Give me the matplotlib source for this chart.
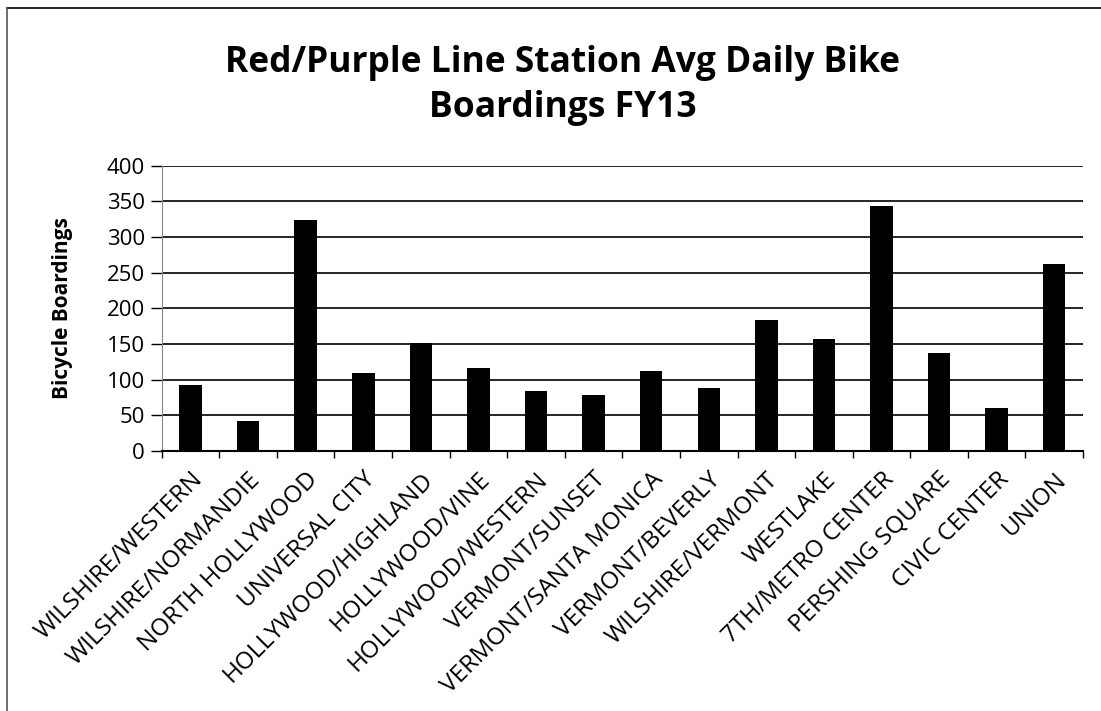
import numpy as np
from matplotlib import pyplot as plt
from matplotlib.lines import Line2D

stations = ["WILSHIRE/WESTERN", "WILSHIRE/NORMANDIE", "NORTH HOLLYWOOD", "UNIVERSAL CITY",
            "HOLLYWOOD/HIGHLAND", "HOLLYWOOD/VINE", "HOLLYWOOD/WESTERN", "VERMONT/SUNSET",
            "VERMONT/SANTA MONICA", "VERMONT/BEVERLY", "WILSHIRE/VERMONT", "WESTLAKE",
            "7TH/METRO CENTER", "PERSHING SQUARE", "CIVIC CENTER", "UNION"]
boardings = [93, 42, 324, 109, 151, 116, 84, 78, 112, 88, 184, 157, 343, 138, 60, 262]
yticks = [0, 50, 100, 150, 200, 250, 300, 350, 400]

plt.rcParams['font.family'] = ['Open Sans', 'DejaVu Sans']

fig = plt.figure(figsize=(11.01, 7.11), dpi=100)
ax = fig.add_axes([0.1469, 0.3657, 0.8368, 0.4013])

x = np.arange(len(stations))
ax.bar(x, boardings, width=0.39, color="black", zorder=3)

ax.set_xlim(-0.5, len(stations) - 0.5)
ax.set_ylim(0, 400)
ax.set_yticks(yticks)
ax.tick_params(axis="y", labelsize=16, length=8, width=1, pad=4)
ax.yaxis.grid(True, color="black", linewidth=1.2, zorder=0)

# ticks sit between the categories, labels centered under bars
ax.set_xticks(x)
ax.set_xticklabels(stations, rotation=45, ha="right", rotation_mode="anchor", fontsize=17.5)
ax.tick_params(axis="x", which="major", length=0, pad=12)
ax.set_xticks(np.arange(-0.5, len(stations), 1), minor=True)
ax.tick_params(axis="x", which="minor", length=5, width=1)

for s in ["top", "right"]:
    ax.spines[s].set_visible(False)
ax.spines["left"].set_color("#888888")
ax.spines["bottom"].set_linewidth(1.5)

ax.set_ylabel("Bicycle Boardings", fontsize=15, fontweight="bold", labelpad=24)

fig.text(0.511, 0.88, "Red/Purple Line Station Avg Daily Bike\nBoardings FY13",
         ha="center", va="center", fontsize=25.5, fontweight="bold", linespacing=1.35)

# outer frame (top and left edges only)
fig.add_artist(Line2D([0.0064, 1.0], [0.9887, 0.9887], color="black", linewidth=1.2))
fig.add_artist(Line2D([0.0064, 0.0064], [0.0, 0.9887], color="#555555", linewidth=1.2))

fig.savefig("out.png", dpi=100)
